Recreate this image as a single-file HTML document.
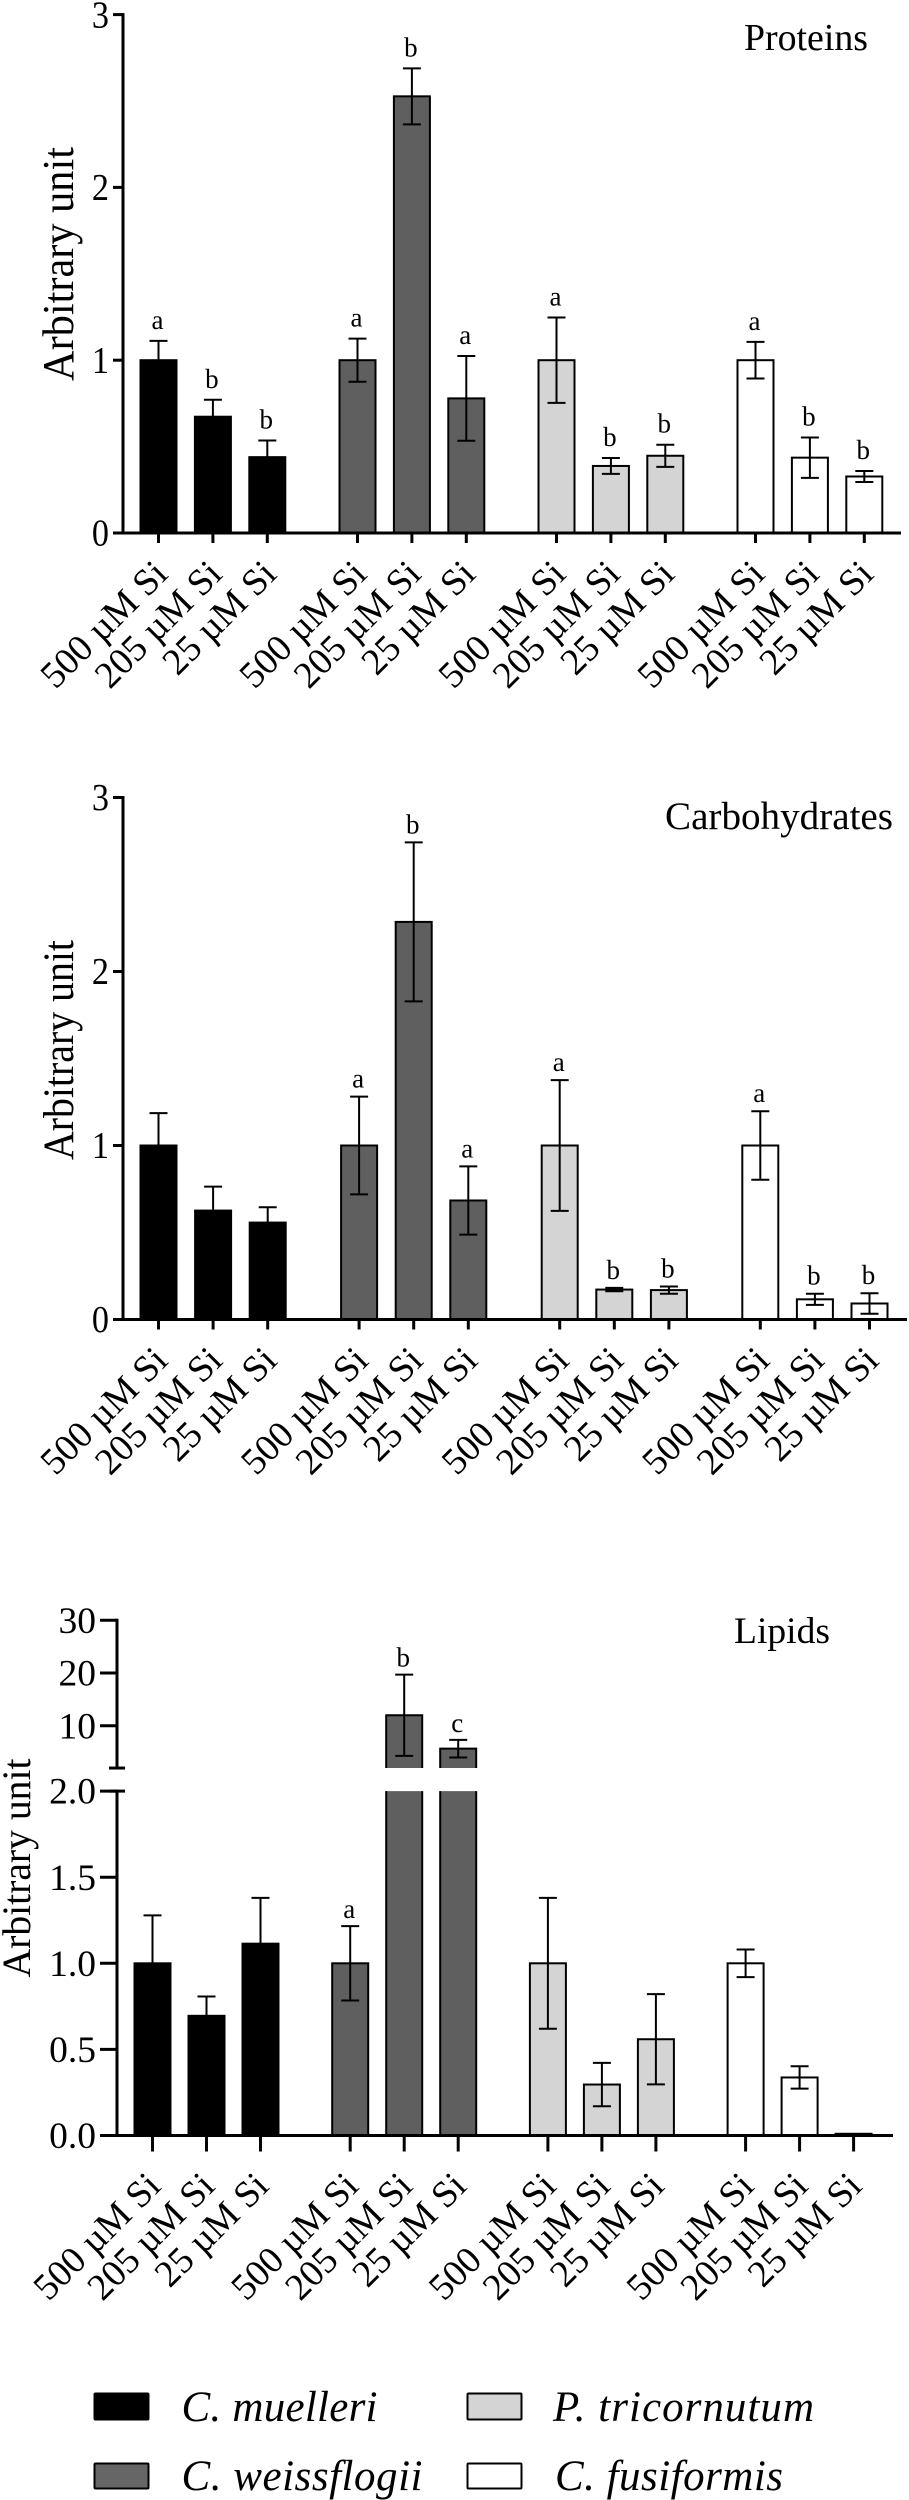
<!DOCTYPE html>
<html lang="en">
<head>
<meta charset="utf-8">
<title>Proteins, carbohydrates and lipids</title>
<style>
html,body{margin:0;padding:0;background:#fff}
svg{display:block}
text{font-family:"Liberation Serif",serif;fill:#000}
</style>
</head>
<body>
<svg id="figure" xmlns="http://www.w3.org/2000/svg" width="909" height="2500" viewBox="0 0 909 2500">
  <rect width="909" height="2500" fill="#fff"/>
  <text x="744" y="50" font-size="38" textLength="124" lengthAdjust="spacingAndGlyphs">Proteins</text>
  <text x="665" y="829" font-size="39" textLength="228" lengthAdjust="spacingAndGlyphs">Carbohydrates</text>
  <text x="734" y="1643" font-size="37.5" textLength="96" lengthAdjust="spacingAndGlyphs">Lipids</text>
  <text transform="translate(73 264) rotate(-90)" text-anchor="middle" font-size="44" textLength="234" lengthAdjust="spacingAndGlyphs">Arbitrary unit</text>
  <text transform="translate(73 1050) rotate(-90)" text-anchor="middle" font-size="43" textLength="220" lengthAdjust="spacingAndGlyphs">Arbitrary unit</text>
  <text transform="translate(30 1868) rotate(-90)" text-anchor="middle" font-size="40" textLength="219" lengthAdjust="spacingAndGlyphs">Arbitrary unit</text>
  <g stroke-linejoin="round">
    <rect x="94.5" y="2393.5" width="54" height="26" rx="1" fill="#000" stroke="#000" stroke-width="2"/>
    <text x="181.5" y="2421" font-size="43" font-style="italic" textLength="196" lengthAdjust="spacing">C. muelleri</text>
    <rect x="94.5" y="2463.5" width="54" height="25" rx="1" fill="#666" stroke="#000" stroke-width="2"/>
    <text x="181.5" y="2490" font-size="43" font-style="italic" textLength="241" lengthAdjust="spacing">C. weissflogii</text>
    <rect x="467.5" y="2393.5" width="54" height="26" rx="1" fill="#d4d4d4" stroke="#000" stroke-width="2"/>
    <text x="553" y="2421" font-size="43" font-style="italic" textLength="261" lengthAdjust="spacing">P. tricornutum</text>
    <rect x="467.5" y="2463.5" width="54" height="25" rx="1" fill="#fff" stroke="#000" stroke-width="2"/>
    <text x="555" y="2490" font-size="43" font-style="italic" textLength="228" lengthAdjust="spacing">C. fusiformis</text>
  </g>
</svg>
<script>
const categoryLabels = ['500 µM Si','205 µM Si','25 µM Si','500 µM Si','205 µM Si','25 µM Si','500 µM Si','205 µM Si','25 µM Si','500 µM Si','205 µM Si','25 µM Si'];
const seriesFills = ['#000000','#5f5f5f','#d4d4d4','#ffffff'];

const proteinValues = [1,0.673,0.439,1,2.527,0.779,1,0.388,0.447,1,0.436,0.327];
const proteinErrors = [0.112,0.098,0.096,0.125,0.162,0.245,0.247,0.046,0.064,0.106,0.117,0.032];
const proteinLetters = ['a','b','b','a','b','a','a','b','b','a','b','b'];
const proteinTicks = [0,1,2,3];

const carbValues = [1,0.626,0.557,1,2.285,0.684,1,0.172,0.169,1,0.116,0.092];
const carbErrors = [0.186,0.138,0.088,0.281,0.457,0.196,0.376,0.01,0.021,0.197,0.032,0.059];
const carbLetters = ['','','','a','b','a','a','b','b','a','b','b'];
const carbTicks = [0,1,2,3];

const lipidValues = [1,0.695,1.114,1,12,5.67,1,0.296,0.559,1,0.337,0.01];
const lipidErrors = [0.278,0.112,0.266,0.216,7.7,1.67,0.38,0.126,0.262,0.08,0.065,0];
const lipidLetters = ['','','','a','b','c','','','','','',''];
const lipidLowTicks = ['0.0','0.5','1.0','1.5','2.0'];
const lipidHighTicks = ['10','20','30'];

const svg = document.getElementById('figure');
const NS = 'http://www.w3.org/2000/svg';

function make(tag, attrs, parent) {
  const el = document.createElementNS(NS, tag);
  for (const k in attrs) el.setAttribute(k, attrs[k]);
  parent.appendChild(el);
  return el;
}
function seg(parent, x1, y1, x2, y2, w) {
  return make('line', {x1: x1, y1: y1, x2: x2, y2: y2, stroke: '#000', 'stroke-width': w}, parent);
}

function drawChart(cfg) {
  const g = make('g', {}, svg);
  
  

  const xPos = i => cfg.x0 + Math.floor(i / 3) * cfg.groupGap + (i % 3) * cfg.step;
  const axisW = cfg.axisWidth;

  // y axis
  cfg.yAxes.forEach(ax => {
    const line = seg(g, cfg.axisX, ax.scale(ax.top) - axisW / 2, cfg.axisX, ax.scale(ax.bottom) + axisW / 2, axisW);
    
    
    ax.ticks.forEach(t => {
      const y = ax.scale(Number(t));
      const tick = seg(g, cfg.axisX - cfg.tickLen, y, cfg.axisX, y, axisW);
      
      
      const lx = cfg.axisX - cfg.tickLen - 4;
      const ly = y + cfg.tickFont * 0.335;
      const label = make('text', {transform: 'translate(' + lx + ' ' + ly + ') scale(' + cfg.tickSquash + ' 1)', 'text-anchor': 'end', 'font-size': cfg.tickFont}, g);
      label.textContent = t;
      
      
    });
    if (ax.capBottom) {
      const c = seg(g, cfg.axisX - 8, ax.scale(ax.bottom), cfg.axisX + 8, ax.scale(ax.bottom), axisW);
      
      
    }
    if (ax.capTop) {
      const c = seg(g, cfg.axisX - 8, ax.scale(ax.top), cfg.axisX + 8, ax.scale(ax.top), axisW);
      
      
    }
  });

  // bars and error bars
  cfg.values.forEach((v, i) => {
    const cx = xPos(i);
    const hw = cfg.barWidth / 2;
    const fill = seriesFills[Math.floor(i / 3)];
    const isHigh = cfg.isHigh && cfg.isHigh(v);
    const bar = make('g', {}, g);
    
    
    const style = {fill: fill, stroke: '#000', 'stroke-width': 2};
    let errScale, capTopY, errBottomY;
    if (isHigh) {
      const low = cfg.yAxes[0], high = cfg.yAxes[1];
      const yb = low.scale(0), yt = low.scale(low.top);
      make('path', Object.assign({d: 'M' + (cx - hw) + ' ' + yb + 'V' + yt + 'H' + (cx + hw) + 'V' + yb}, {fill: fill, stroke: 'none'}), bar);
      seg(bar, cx - hw, yb, cx - hw, yt, 2);
      seg(bar, cx + hw, yb, cx + hw, yt, 2);
      const yb2 = high.scale(high.bottom), yt2 = high.scale(v);
      make('path', {d: 'M' + (cx - hw) + ' ' + yb2 + 'V' + yt2 + 'H' + (cx + hw) + 'V' + yb2, fill: fill, stroke: 'none'}, bar);
      make('path', {d: 'M' + (cx - hw) + ' ' + yb2 + 'V' + yt2 + 'H' + (cx + hw) + 'V' + yb2, fill: 'none', stroke: '#000', 'stroke-width': 2}, bar);
      errScale = high.scale;
    } else {
      const s = cfg.yAxes[0].scale;
      make('rect', Object.assign({x: cx - hw, y: s(v), width: cfg.barWidth, height: s(0) - s(v)}, style), bar);
      errScale = s;
    }
    const e = cfg.errors[i];
    capTopY = errScale(v + e);
    errBottomY = errScale(v - e);
    if (e > 0) {
      const err = make('g', {}, g);
      
      
      seg(err, cx, capTopY, cx, errBottomY, 2);
      seg(err, cx - cfg.capHalf, capTopY, cx + cfg.capHalf, capTopY, 2);
      seg(err, cx - cfg.capHalf, errBottomY, cx + cfg.capHalf, errBottomY, 2);
    }
    if (cfg.letters[i]) {
      const t = make('text', {x: cx - 1, y: capTopY - cfg.letterGap, 'text-anchor': 'middle', 'font-size': 27}, g);
      t.textContent = cfg.letters[i];
      
      
    }
  });

  // x axis
  const y0 = cfg.yAxes[0].scale(0);
  const xAxis = seg(g, cfg.axisX - cfg.tickLen, y0, cfg.xEnd, y0, axisW);
  
  
  categoryLabels.forEach((lab, i) => {
    const cx = xPos(i);
    const tick = seg(g, cx, y0, cx, y0 + cfg.xTickLen, 3);
    
    
    const ax = cx + cfg.labelDx, ay = y0 + cfg.labelDy;
    const t = make('text', {transform: 'translate(' + ax + ' ' + ay + ') rotate(-45)', 'text-anchor': 'end', 'font-size': 37.5}, g);
    t.textContent = lab;
    
    
  });
}

function linear(v0, y0, unit) {
  return v => y0 - (v - v0) * unit;
}

drawChart({
  name: 'proteins', values: proteinValues, errors: proteinErrors, letters: proteinLetters,
  x0: 158.5, step: 54.4, groupGap: 199, barWidth: 36, capHalf: 9, axisX: 123, axisWidth: 3,
  tickLen: 10, xTickLen: 10, xEnd: 901, labelDx: 11, labelDy: 43,
  tickFont: 38, tickSquash: 0.9, letterGap: 12,
  yAxes: [{scale: linear(0, 533, 172.8), top: 3, bottom: 0, ticks: proteinTicks.map(String)}]
});

drawChart({
  name: 'carbohydrates', values: carbValues, errors: carbErrors, letters: carbLetters,
  x0: 158.5, step: 54.6, groupGap: 200.6, barWidth: 36, capHalf: 9, axisX: 123, axisWidth: 3,
  tickLen: 10, xTickLen: 10, xEnd: 907, labelDx: 11, labelDy: 43,
  tickFont: 38, tickSquash: 0.9, letterGap: 9,
  yAxes: [{scale: linear(0, 1319.5, 174), top: 3, bottom: 0, ticks: carbTicks.map(String)}]
});

drawChart({
  name: 'lipids', values: lipidValues, errors: lipidErrors, letters: lipidLetters,
  x0: 152.5, step: 54, groupGap: 197.7, barWidth: 36, capHalf: 9, axisX: 117, axisWidth: 3,
  tickLen: 17, xTickLen: 16, xEnd: 893, labelDx: 10, labelDy: 52.5,
  tickFont: 37.5, tickSquash: 1, letterGap: 8,
  isHigh: v => v > 2,
  yAxes: [
    {scale: linear(0, 2135.5, 172.2), top: 2, bottom: 0, ticks: lipidLowTicks, capTop: true},
    {scale: linear(10, 1725.8, 5.28), top: 30, bottom: 2, ticks: lipidHighTicks, capBottom: true}
  ]
});
</script>
</body>
</html>
